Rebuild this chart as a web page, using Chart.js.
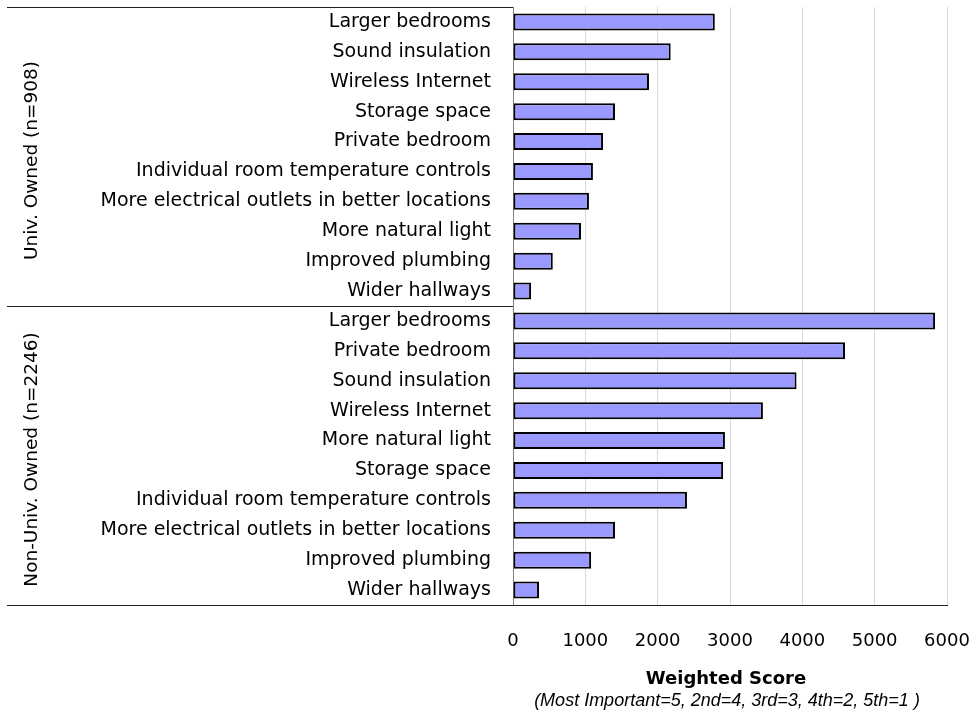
<!DOCTYPE html>
<html>
<head>
<meta charset="utf-8">
<script src="https://cdn.jsdelivr.net/npm/chart.js@4.4.1/dist/chart.umd.min.js"></script>
<style>
  html, body { margin: 0; padding: 0; background: #ffffff; }
  #wrap { width: 971px; height: 715px; position: relative; }
</style>
</head>
<body>
<div id="wrap"><canvas id="chart" width="971" height="715"></canvas></div>
<script>
// Housing features ranked by weighted importance score, split by ownership type
const groupNames = ['Univ. Owned (n=908)', 'Non-Univ. Owned (n=2246)'];

const univLabels = [
  'Larger bedrooms', 'Sound insulation', 'Wireless Internet', 'Storage space',
  'Private bedroom', 'Individual room temperature controls',
  'More electrical outlets in better locations', 'More natural light',
  'Improved plumbing', 'Wider hallways'
];
const univScores = [2790, 2180, 1880, 1410, 1245, 1105, 1050, 940, 550, 250];

const nonUnivLabels = [
  'Larger bedrooms', 'Private bedroom', 'Sound insulation', 'Wireless Internet',
  'More natural light', 'Storage space', 'Individual room temperature controls',
  'More electrical outlets in better locations', 'Improved plumbing', 'Wider hallways'
];
const nonUnivScores = [5835, 4590, 3920, 3455, 2930, 2905, 2405, 1410, 1080, 360];

const xTicks = [0, 1000, 2000, 3000, 4000, 5000, 6000];
const axisTitle = 'Weighted Score';
const axisNote = '(Most Important=5, 2nd=4, 3rd=3, 4th=2, 5th=1 )';

const labels = univLabels.concat(nonUnivLabels);
const scores = univScores.concat(nonUnivScores);
const groupSizes = [univLabels.length, nonUnivLabels.length];

const FONT = "'DejaVu Sans', sans-serif";

// Draws the group brackets on the left, the rotated group names and the axis titles
const groupPlugin = {
  id: 'groupPlugin',
  afterDraw(chart) {
    const ctx = chart.ctx;
    const y = chart.scales.y;
    const x = chart.scales.x;
    const area = chart.chartArea;
    const leftEdge = 7;
    const half = (y.getPixelForValue(1) - y.getPixelForValue(0)) / 2;

    ctx.save();
    ctx.strokeStyle = '#222222';
    ctx.lineWidth = 1;

    let start = 0;
    const bounds = [];
    groupSizes.forEach((n) => {
      const top = y.getPixelForValue(start) - half;
      const bottom = y.getPixelForValue(start + n - 1) + half;
      bounds.push([top, bottom]);
      start += n;
    });

    // horizontal separators across the label column
    const seps = [bounds[0][0]];
    bounds.forEach(b => seps.push(b[1]));
    seps.forEach((sy, i) => {
      const yy = Math.round(sy) + 0.5;
      ctx.beginPath();
      ctx.moveTo(leftEdge, yy);
      ctx.lineTo(i === seps.length - 1 ? area.right : area.left, yy);
      ctx.stroke();
    });

    // rotated group names
    ctx.fillStyle = '#000000';
    ctx.font = '18.5px ' + FONT;
    ctx.textAlign = 'center';
    ctx.textBaseline = 'middle';
    bounds.forEach((b, i) => {
      ctx.save();
      ctx.translate(32, (b[0] + b[1]) / 2 + 4);
      ctx.rotate(-Math.PI / 2);
      ctx.fillText(groupNames[i], 0, 0);
      ctx.restore();
    });

    // axis title lines under the tick labels
    const cx = (x.left + x.right) / 2;
    ctx.font = "bold 18px 'DejaVu Sans', sans-serif";
    ctx.fillText(axisTitle, cx - 4, 679);
    ctx.font = "italic 18px 'Liberation Sans', sans-serif";
    ctx.fillText(axisNote, cx - 3, 701);
    ctx.restore();
  }
};

function noPadding(s) {
  s.paddingTop = 0;
  s.paddingBottom = 0;
  s.paddingLeft = 0;
  s.paddingRight = 0;
}

new Chart(document.getElementById('chart'), {
  type: 'bar',
  data: {
    labels: labels,
    datasets: [{
      data: scores,
      backgroundColor: '#9999ff',
      borderColor: '#000000',
      borderWidth: 2,
      borderSkipped: false,
      categoryPercentage: 1.0,
      barPercentage: 0.57
    }]
  },
  options: {
    indexAxis: 'y',
    responsive: false,
    animation: false,
    layout: { padding: { top: 7, right: 24, bottom: 0, left: 0 } },
    plugins: {
      legend: { display: false },
      tooltip: { enabled: false }
    },
    scales: {
      x: {
        min: 0,
        max: 6000,
        afterBuildTicks: (s) => { s.ticks = xTicks.map(v => ({ value: v })); },
        afterFit: (s) => { s.height = 110; noPadding(s); },
        grid: { color: '#d9d9d9', lineWidth: 1, drawTicks: false },
        border: { display: true, color: '#111111', width: 1 },
        ticks: {
          color: '#000000',
          padding: 26,
          maxRotation: 0,
          callback: (v) => String(v),
          font: { family: FONT, size: 18 }
        }
      },
      y: {
        afterFit: (s) => { s.width = 513; noPadding(s); },
        grid: { display: false, drawTicks: false },
        border: { display: true, color: '#808080', width: 1 },
        ticks: {
          color: '#000000',
          padding: 22,
          autoSkip: false,
          font: { family: FONT, size: 19 }
        }
      }
    }
  },
  plugins: [groupPlugin]
});
</script>
</body>
</html>
